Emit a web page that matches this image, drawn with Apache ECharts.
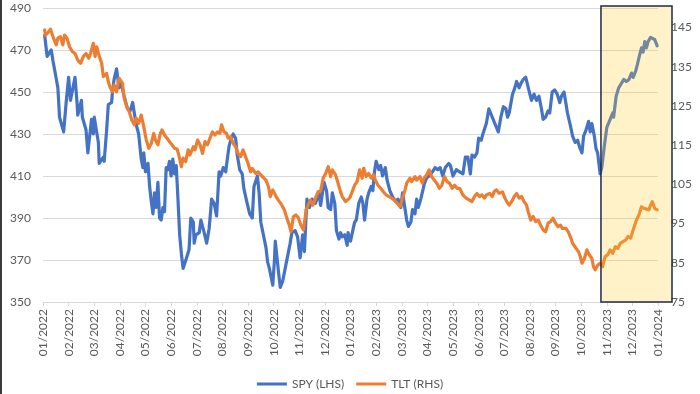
<!DOCTYPE html>
<html>
<head>
<meta charset="utf-8">
<script src="https://cdn.jsdelivr.net/npm/echarts@6/dist/echarts.min.js"></script>
<style>html,body{margin:0;padding:0;background:#fff}#c{width:700px;height:394px}</style>
</head>
<body>
<div id="c"></div>
<script>
const seriesNames = ['SPY (LHS)', 'TLT (RHS)'];
const leftTicks = [350, 490, 20];
const rightTicks = [75, 150, 10];
const highlightStart = '2023-10-25';

const spyDates = [
'2022-01-03','2022-01-06','2022-01-11','2022-01-13','2022-01-19','2022-01-21','2022-01-26','2022-01-29','2022-02-01','2022-02-03',
'2022-02-08','2022-02-10','2022-02-11','2022-02-15','2022-02-16','2022-02-20','2022-02-22','2022-02-26','2022-02-28','2022-03-01',
'2022-03-06','2022-03-07','2022-03-12','2022-03-13','2022-03-16','2022-03-18','2022-03-22','2022-03-23','2022-03-25','2022-03-28',
'2022-03-31','2022-04-02','2022-04-06','2022-04-10','2022-04-13','2022-04-16','2022-04-19','2022-04-21','2022-04-23','2022-04-26',
'2022-04-28','2022-04-29','2022-05-01','2022-05-04','2022-05-06','2022-05-08','2022-05-10','2022-05-12','2022-05-14','2022-05-16',
'2022-05-18','2022-05-20','2022-05-22','2022-05-24','2022-05-26','2022-05-28','2022-05-30','2022-06-01','2022-06-03','2022-06-05',
'2022-06-07','2022-06-09','2022-06-11','2022-06-13','2022-06-15','2022-06-19','2022-06-22','2022-06-24','2022-06-27','2022-06-28',
'2022-06-30','2022-07-04','2022-07-06','2022-07-10','2022-07-13','2022-07-16','2022-07-19','2022-07-22','2022-07-25','2022-07-28',
'2022-07-30','2022-08-02','2022-08-05','2022-08-09','2022-08-11','2022-08-14','2022-08-17','2022-08-19','2022-08-22','2022-08-25',
'2022-08-27','2022-08-31','2022-09-03','2022-09-06','2022-09-08','2022-09-12','2022-09-14','2022-09-16','2022-09-18','2022-09-22',
'2022-09-24','2022-09-26','2022-09-30','2022-10-02','2022-10-03','2022-10-07','2022-10-09','2022-10-12','2022-10-15','2022-10-19',
'2022-10-21','2022-10-23','2022-10-27','2022-10-30','2022-11-02','2022-11-05','2022-11-07','2022-11-10','2022-11-13','2022-11-16',
'2022-11-20','2022-11-24','2022-11-26','2022-11-30','2022-12-03','2022-12-05','2022-12-08','2022-12-10','2022-12-13','2022-12-15',
'2022-12-18','2022-12-20','2022-12-22','2022-12-25','2022-12-28','2022-12-29','2023-01-01','2023-01-06','2023-01-08','2023-01-11',
'2023-01-14','2023-01-16','2023-01-18','2023-01-21','2023-01-23','2023-01-26','2023-01-28','2023-01-30','2023-02-01','2023-02-04',
'2023-02-06','2023-02-08','2023-02-11','2023-02-13','2023-02-16','2023-02-19','2023-02-22','2023-02-25','2023-02-28','2023-03-02',
'2023-03-04','2023-03-07','2023-03-09','2023-03-12','2023-03-14','2023-03-17','2023-03-19','2023-03-21','2023-03-24','2023-03-27',
'2023-03-28','2023-03-31','2023-04-03','2023-04-07','2023-04-10','2023-04-13','2023-04-16','2023-04-19','2023-04-22','2023-04-26',
'2023-04-28','2023-05-01','2023-05-05','2023-05-09','2023-05-13','2023-05-16','2023-05-19','2023-05-22','2023-05-24','2023-05-27',
'2023-05-30','2023-06-01','2023-06-04','2023-06-06','2023-06-10','2023-06-13','2023-06-16','2023-06-18','2023-06-22','2023-06-24',
'2023-06-27','2023-06-30','2023-07-03','2023-07-05','2023-07-07','2023-07-11','2023-07-13','2023-07-16','2023-07-19','2023-07-21',
'2023-07-24','2023-07-27','2023-07-29','2023-08-01','2023-08-03','2023-08-06','2023-08-09','2023-08-12','2023-08-15','2023-08-17',
'2023-08-20','2023-08-23','2023-08-25','2023-08-28','2023-08-31','2023-09-03','2023-09-06','2023-09-08','2023-09-11','2023-09-13',
'2023-09-15','2023-09-19','2023-09-21','2023-09-24','2023-09-27','2023-09-29','2023-10-02','2023-10-04','2023-10-07','2023-10-10',
'2023-10-12','2023-10-14','2023-10-17','2023-10-19','2023-10-21','2023-10-24','2023-10-26','2023-10-29','2023-11-01','2023-11-04',
'2023-11-06','2023-11-08','2023-11-09','2023-11-12','2023-11-15','2023-11-18','2023-11-21','2023-11-24','2023-11-27','2023-11-30',
'2023-12-02','2023-12-05','2023-12-07','2023-12-10','2023-12-12','2023-12-14','2023-12-16','2023-12-18','2023-12-20','2023-12-23',
'2023-12-25','2023-12-28','2023-12-31'
];
const spyValues = [
477,467,470,465,452,438,431,445,457,446,
457,446,439,446,438,432,421,437,430,438,
426,416,419,417,432,444,445,450,456,461,
452,455,448,442,441,445,437,433,430,418,
414,421,412,416,405,398,392,402,395,407,
390,389,395,393,414,413,417,410,418,411,
415,399,382,373,366,371,375,390,388,378,
382,383,389,383,378,385,399,397,391,412,
410,414,412,424,427,430,428,420,413,411,
404,397,392,390,405,410,402,388,388,376,
369,366,358,370,379,364,357,360,366,374,
378,383,384,381,371,382,374,399,395,399,
397,402,396,407,403,395,394,402,397,384,
380,383,381,382,377,383,379,388,389,397,
400,397,389,399,402,405,403,412,417,413,
415,410,414,408,403,400,398,399,395,402,
402,389,386,388,394,392,399,395,399,404,
406,409,410,412,414,413,414,410,414,416,
415,410,413,412,411,419,419,411,420,419,
421,428,427,430,435,442,439,437,433,431,
438,443,442,438,440,449,451,455,452,454,
456,457,456.5,449,446,449,446,448,442,437,
438,441,440,450,451,449,445,448,450,445,
440,433,429,426,427,424,421,429,432,436,
431,435,429,423,421,411,414,424,433,436,
438,440,438,448,452,454,456,455,456,459,
457,460,463,468,471,469,474,471,474,476,
476,475,472
];

const tltDates = [
'2022-01-03','2022-01-04','2022-01-07','2022-01-10','2022-01-13','2022-01-17','2022-01-19','2022-01-22','2022-01-25','2022-01-27',
'2022-01-30','2022-02-02','2022-02-05','2022-02-08','2022-02-11','2022-02-14','2022-02-17','2022-02-20','2022-02-23','2022-02-25',
'2022-02-28','2022-03-02','2022-03-04','2022-03-06','2022-03-10','2022-03-12','2022-03-16','2022-03-18','2022-03-20','2022-03-23',
'2022-03-25','2022-03-28','2022-03-31','2022-04-04','2022-04-06','2022-04-09','2022-04-12','2022-04-15','2022-04-18','2022-04-20',
'2022-04-23','2022-04-26','2022-04-29','2022-05-02','2022-05-05','2022-05-08','2022-05-11','2022-05-13','2022-05-16','2022-05-19',
'2022-05-21','2022-05-24','2022-05-27','2022-05-30','2022-06-02','2022-06-05','2022-06-08','2022-06-10','2022-06-13','2022-06-15',
'2022-06-18','2022-06-21','2022-06-23','2022-06-27','2022-06-29','2022-07-02','2022-07-05','2022-07-08','2022-07-11','2022-07-14',
'2022-07-17','2022-07-20','2022-07-23','2022-07-26','2022-07-29','2022-07-31','2022-08-03','2022-08-06','2022-08-08','2022-08-11',
'2022-08-14','2022-08-17','2022-08-20','2022-08-23','2022-08-26','2022-08-29','2022-09-01','2022-09-04','2022-09-06','2022-09-10',
'2022-09-13','2022-09-16','2022-09-18','2022-09-22','2022-09-25','2022-09-27','2022-09-30','2022-10-02','2022-10-05','2022-10-08',
'2022-10-11','2022-10-14','2022-10-17','2022-10-20','2022-10-22','2022-10-25','2022-10-28','2022-10-31','2022-11-03','2022-11-06',
'2022-11-09','2022-11-11','2022-11-14','2022-11-17','2022-11-20','2022-11-23','2022-11-26','2022-11-29','2022-12-02','2022-12-05',
'2022-12-08','2022-12-10','2022-12-14','2022-12-17','2022-12-20','2022-12-22','2022-12-26','2022-12-28','2022-12-31','2023-01-03',
'2023-01-06','2023-01-09','2023-01-12','2023-01-15','2023-01-17','2023-01-20','2023-01-23','2023-01-26','2023-01-29','2023-01-31',
'2023-02-03','2023-02-06','2023-02-09','2023-02-12','2023-02-15','2023-02-18','2023-02-21','2023-02-24','2023-02-27','2023-03-02',
'2023-03-05','2023-03-07','2023-03-11','2023-03-13','2023-03-17','2023-03-19','2023-03-23','2023-03-26','2023-03-28','2023-03-31',
'2023-04-03','2023-04-06','2023-04-09','2023-04-12','2023-04-15','2023-04-18','2023-04-21','2023-04-24','2023-04-27','2023-04-30',
'2023-05-03','2023-05-06','2023-05-09','2023-05-13','2023-05-17','2023-05-21','2023-05-24','2023-05-27','2023-05-30','2023-06-02',
'2023-06-05','2023-06-08','2023-06-10','2023-06-14','2023-06-17','2023-06-19','2023-06-22','2023-06-25','2023-06-29','2023-07-01',
'2023-07-04','2023-07-07','2023-07-11','2023-07-13','2023-07-16','2023-07-19','2023-07-22','2023-07-25','2023-07-28','2023-07-30',
'2023-08-02','2023-08-05','2023-08-08','2023-08-11','2023-08-14','2023-08-17','2023-08-20','2023-08-23','2023-08-26','2023-08-29',
'2023-09-01','2023-09-04','2023-09-07','2023-09-09','2023-09-13','2023-09-16','2023-09-19','2023-09-21','2023-09-25','2023-09-28',
'2023-09-30','2023-10-02','2023-10-05','2023-10-08','2023-10-11','2023-10-14','2023-10-16','2023-10-18','2023-10-21','2023-10-24',
'2023-10-27','2023-10-30','2023-11-02','2023-11-05','2023-11-08','2023-11-11','2023-11-14','2023-11-17','2023-11-20','2023-11-23',
'2023-11-26','2023-11-29','2023-12-02','2023-12-04','2023-12-06','2023-12-09','2023-12-12','2023-12-15','2023-12-17','2023-12-21',
'2023-12-23','2023-12-25','2023-12-28','2023-12-31'
];
const tltValues = [
144.4,143.1,143.7,144.6,142.7,140.6,142.3,142.7,140.6,143.1,
142.3,140.1,138.9,138.4,136.7,135.9,137.6,138.4,137.2,138.4,
141.0,137.6,140.1,138.4,135.9,132.5,133.3,131.2,129.9,128.6,
130.4,128.6,132.1,130.8,127.0,124.8,123.5,121.4,120.2,121.9,
120.6,122.7,119.7,116.3,114.2,115.5,118.0,116.3,115.1,118.0,
118.9,117.6,116.8,115.9,115.1,114.2,114.0,112.5,109.5,111.7,
110.8,113.8,112.5,114.6,113.8,116.3,115.1,112.9,115.9,115.1,
116.8,118.4,117.6,118.4,118.0,120.2,118.4,118.0,116.8,117.2,
115.5,114.6,112.9,112.1,113.8,112.1,110.4,108.2,109.1,107.8,
108.2,107.4,107.4,106.1,104.4,101.9,103.6,103.1,101.5,100.6,
99.7,98.5,96.4,94.6,92.9,96.8,97.2,96.4,94.6,93.4,
98.5,98.9,101.0,99.7,101.5,103.1,103.3,106.6,107.8,109.5,
107.0,108.7,107.4,105.3,103.1,101.9,100.6,100.2,101.5,103.1,
104.8,105.7,108.7,106.6,109.1,107.0,107.8,106.6,107.4,106.1,
104.8,104.0,103.1,102.3,101.9,101.5,101.0,100.2,99.3,101.5,
103.6,105.3,106.6,105.7,107.0,106.1,107.0,105.3,106.6,107.4,
108.7,107.0,106.1,105.3,104.0,104.8,107.0,105.7,105.3,104.0,
104.8,104.0,104.0,102.3,101.5,101.0,100.6,101.9,102.7,101.9,
102.3,101.5,102.3,102.7,101.9,103.1,103.6,102.7,103.1,101.9,
100.6,99.7,101.0,101.9,102.7,101.5,101.9,100.6,99.7,98.0,
95.9,96.8,95.5,95.9,94.6,93.4,92.9,95.1,95.5,96.4,
95.1,94.2,94.6,93.8,93.8,92.9,91.3,90.0,88.7,87.8,
86.6,84.9,86.1,88.3,87.0,86.1,84.0,83.2,84.4,84.9,
84.0,86.6,87.0,88.3,87.4,89.1,88.7,90.0,90.4,90.8,
91.7,91.3,93.4,93.8,95.9,97.2,99.3,98.9,99.3,98.5,
99.7,100.6,98.9,98.5
];

function toMonth(s) {
  const p = s.split('-').map(Number);
  const dim = new Date(p[0], p[1], 0).getDate();
  return (p[0] - 2022) * 12 + (p[1] - 1) + (p[2] - 1) / dim;
}
function monthLabel(v) {
  const y = 2022 + Math.floor(v / 12);
  const m = v % 12 + 1;
  return (m < 10 ? '0' : '') + m + '/' + y;
}

const FONT = 'Lato';
const TXT = '#595959';
const GRID = { left: 43, right: 42, top: 8, bottom: 92 };

const chart = echarts.init(document.getElementById('c'), null, { renderer: 'canvas' });
chart.setOption({
  animation: false,
  backgroundColor: '#ffffff',
  grid: GRID,
  legend: {
    data: seriesNames,
    top: 373,
    left: 'center',
    icon: 'rect',
    itemWidth: 30,
    itemHeight: 3,
    itemGap: 12,
    textStyle: { fontFamily: FONT, fontSize: 12, color: TXT }
  },
  xAxis: {
    type: 'value',
    min: 0, max: 24, interval: 1,
    axisLine: { show: true, lineStyle: { color: '#D9D9D9', width: 1 } },
    axisTick: { show: true, length: 4, lineStyle: { color: '#D9D9D9' } },
    splitLine: { show: false },
    axisLabel: {
      rotate: 90, margin: 7,
      fontFamily: FONT, fontSize: 12, color: TXT,
      formatter: monthLabel
    }
  },
  yAxis: [{
    type: 'value', position: 'left',
    min: leftTicks[0], max: leftTicks[1], interval: leftTicks[2],
    axisLine: { show: false }, axisTick: { show: false },
    splitLine: { show: true, lineStyle: { color: '#D9D9D9', width: 1 } },
    axisLabel: { margin: 12, fontFamily: FONT, fontSize: 12, color: TXT }
  }, {
    type: 'value', position: 'right',
    min: rightTicks[0], max: rightTicks[1], interval: rightTicks[2],
    axisLine: { show: false }, axisTick: { show: false },
    splitLine: { show: false },
    axisLabel: { margin: 13, showMaxLabel: false, fontFamily: FONT, fontSize: 12, color: TXT }
  }],
  series: [{
    name: seriesNames[0], type: 'line', yAxisIndex: 0,
    showSymbol: false, symbol: 'none',
    color: '#4472C4',
    lineStyle: { width: 3.2, color: '#4472C4', join: 'round', cap: 'round' },
    data: spyDates.map((d, i) => [toMonth(d), spyValues[i]]),
    z: 2
  }, {
    name: seriesNames[1], type: 'line', yAxisIndex: 1,
    showSymbol: false, symbol: 'none',
    color: '#ED7D31',
    lineStyle: { width: 3.2, color: '#ED7D31', join: 'round', cap: 'round' },
    data: tltDates.map((d, i) => [toMonth(d), tltValues[i]]),
    z: 3
  }]
});

const bx = chart.convertToPixel({ xAxisIndex: 0 }, toMonth(highlightStart));
const byTop = chart.convertToPixel({ yAxisIndex: 0 }, leftTicks[1]) - 2;
const byBot = chart.convertToPixel({ yAxisIndex: 0 }, leftTicks[0]);
const bxRight = 700 - GRID.right + 14;
chart.setOption({
  graphic: [{
    type: 'rect', z: 100,
    shape: { x: bx, y: byTop, width: bxRight - bx, height: byBot - byTop },
    style: { fill: 'rgba(255,205,40,0.25)', stroke: '#1F2A44', lineWidth: 1.5 }
  }, {
    type: 'line', z: 100,
    shape: { x1: 1, y1: 0, x2: 1, y2: 394 },
    style: { stroke: '#3a3a3a', lineWidth: 2 }
  }]
});
</script>
</body>
</html>
